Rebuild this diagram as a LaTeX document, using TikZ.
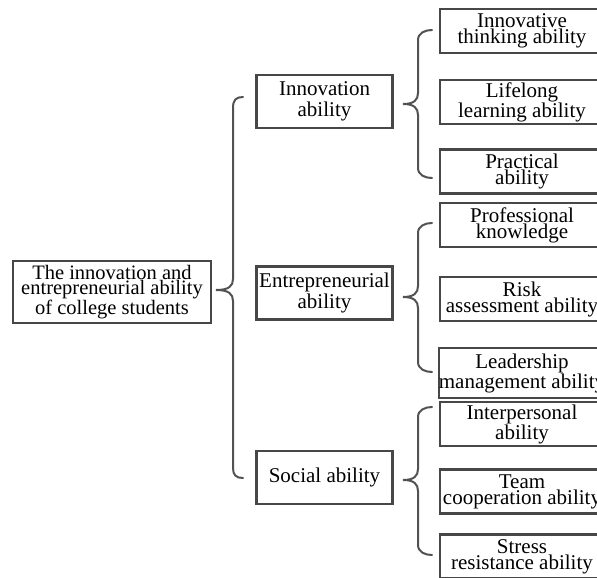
\documentclass[tikz,border=0pt]{standalone}
\usepackage{fontspec}
\setmainfont{Liberation Serif}
\begin{document}
\begin{tikzpicture}[x=1pt,y=-1pt,
  box/.style={draw=black!72, line width=2.1pt, fill=white, inner sep=0pt, align=center},
  rootbox/.style={box, minimum width=198pt, minimum height=62pt, font=\fontsize{20.5}{15.5}\selectfont},
  midbox/.style={box, minimum width=136pt, minimum height=53pt, font=\fontsize{21}{21}\selectfont},
  leafbox/.style={box, minimum width=164pt, minimum height=44pt, font=\fontsize{21}{16}\selectfont},
  brace/.style={draw=black!68, line width=2pt, line cap=round}]
\useasboundingbox (0,0) rectangle (597,578);

% root
\node[rootbox] (root) at (112,292) {The innovation and\\entrepreneurial ability\\of college students};

% middle level
\node[midbox] (inn) at (324.5,101.5) {Innovation\\ability};
\node[midbox] (ent) at (324.5,293) {Entrepreneurial\\ability};
\node[midbox] (soc) at (324.5,477.5) {Social ability};

% leaves
\node[leafbox] (l1) at (522,31) {Innovative\\thinking ability};
\node[leafbox] (l2) at (522,102) {Lifelong\\learning ability};
\node[leafbox] (l3) at (522,171.5) {Practical\\ability};
\node[leafbox] (l4) at (522,225) {Professional\\knowledge};
\node[leafbox] (l5) at (522,299) {Risk\\assessment ability};
\node[leafbox, minimum height=50pt] (l6) at (522,373) {Leadership\\management ability};
\node[leafbox] (l7) at (522,424) {Interpersonal\\ability};
\node[leafbox] (l8) at (522,491.5) {Team\\cooperation ability};
\node[leafbox] (l9) at (522,556.5) {Stress\\resistance ability};

% big brace
\draw[brace] (243,97) .. controls (236,97) and (233,100) .. (233,108) -- (233,279)
  .. controls (233,286) and (229,290) .. (216,290)
  .. controls (229,290) and (233,294) .. (233,301) -- (233,468)
  .. controls (233,475) and (236,478) .. (243,478);

% right braces
\foreach \t/\m/\b in {30/104/178, 223/297/372, 407/480/555}{
  \draw[brace] (432,\t) .. controls (425,\t) and (418,\t+3) .. (418,\t+10) -- (418,\m-11)
    .. controls (418,\m-4) and (414,\m) .. (403,\m)
    .. controls (414,\m) and (418,\m+4) .. (418,\m+11) -- (418,\b-10)
    .. controls (418,\b-3) and (425,\b) .. (432,\b);
}
\end{tikzpicture}
\end{document}
